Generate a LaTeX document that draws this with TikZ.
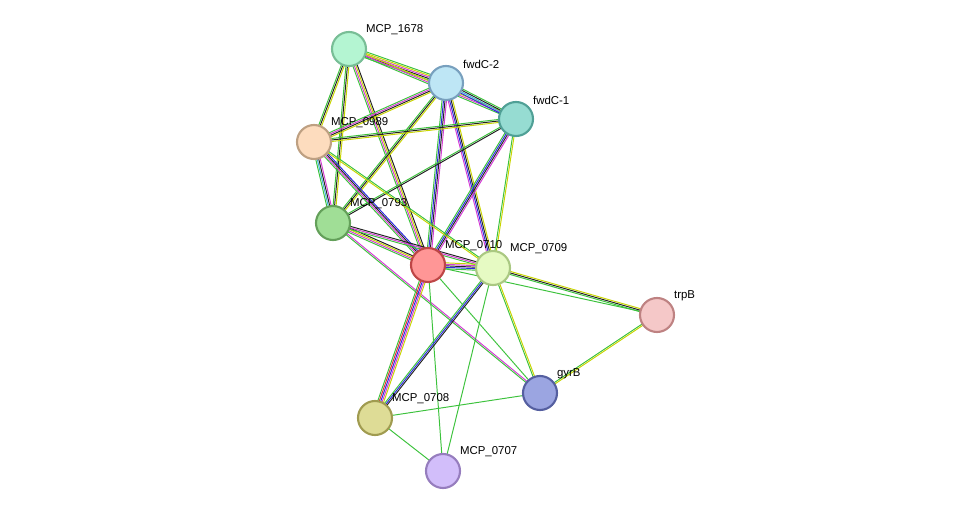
\documentclass[tikz,border=0pt]{standalone}
\usepackage{fontspec}
\setmainfont{Liberation Sans}
\usetikzlibrary{calc}
\definecolor{eg}{HTML}{3CC23C}
\definecolor{ey}{HTML}{C8D400}
\definecolor{ek}{HTML}{222222}
\definecolor{eb}{HTML}{2B2BE0}
\definecolor{em}{HTML}{D43CD4}
\definecolor{ec}{HTML}{3CB4D4}
\definecolor{er}{HTML}{E03030}
\tikzset{
    edge/.style={line width=0.55pt},
    prot/.style={circle, minimum size=0.68cm, inner sep=0pt, line width=1.2pt},
    lbl/.style={font=\fontsize{6.5}{8}\selectfont, inner sep=1pt}
}
% #1,#2 ends, #3 number of lines, #4 colours
\newcommand\lnk[4]{
    \foreach \c [count=\i] in {#4} {
        \pgfmathsetmacro\o{(\i-(#3+1)/2)*0.85}
        \draw[\c, edge] ($(#1)!\o pt!90:(#2)$) -- ($(#2)!\o pt!-90:(#1)$);
    }
}
\begin{document}
\begin{tikzpicture}[x=0.02cm, y=-0.02cm]
    \useasboundingbox (0,0) rectangle (975,517);
    \coordinate (a1678) at (349,49);
    \coordinate (afc2) at (446,83);
    \coordinate (afc1) at (516,119);
    \coordinate (a0989) at (314,142);
    \coordinate (a0793) at (333,223);
    \coordinate (a0710) at (428,265);
    \coordinate (a0709) at (493,268);
    \coordinate (atrp) at (657,315);
    \coordinate (agyr) at (540,393);
    \coordinate (a0708) at (375,418);
    \coordinate (a0707) at (443,471);
    % edges
    \lnk{a1678}{afc2}{5}{eg,ek,em,ey,eg}
    \lnk{a1678}{afc1}{3}{eg,em,ey}
    \lnk{a1678}{a0989}{3}{eg,ek,ey}
    \lnk{a1678}{a0793}{3}{eg,ek,ey}
    \lnk{a1678}{a0710}{4}{eg,em,ey,ek}
    \lnk{afc2}{afc1}{4}{eb,ec,ek,eg}
    \lnk{afc2}{a0989}{4}{eg,em,ek,ey}
    \lnk{afc2}{a0793}{3}{eg,ek,ey}
    \lnk{afc2}{a0710}{4}{eg,eb,ek,em}
    \lnk{afc2}{a0709}{4}{em,eb,ek,ey}
    \lnk{afc1}{a0989}{3}{eg,ek,ey}
    \lnk{afc1}{a0793}{2}{eg,ek}
    \lnk{afc1}{a0710}{4}{eg,eb,ek,em}
    \lnk{afc1}{a0709}{2}{eg,ey}
    \lnk{a0989}{a0793}{4}{eg,ec,ek,em}
    \lnk{a0989}{a0710}{4}{eg,em,ek,eb}
    \lnk{a0989}{a0709}{2}{ey,eg}
    \lnk{a0793}{a0710}{4}{eg,em,ey,ek}
    \lnk{a0793}{a0709}{3}{eg,em,ek}
    \lnk{a0793}{agyr}{2}{eg,em}
    \lnk{a0710}{a0709}{5}{eg,eb,ek,em,ey}
    \lnk{a0710}{a0708}{5}{eg,er,eb,em,ey}
    \lnk{a0710}{agyr}{1}{eg}
    \lnk{a0710}{a0707}{1}{eg}
    \lnk{a0710}{atrp}{1}{eg}
    \lnk{a0709}{a0708}{3}{eg,eb,ek}
    \lnk{a0709}{atrp}{3}{eg,ek,ey}
    \lnk{a0709}{agyr}{2}{eg,ey}
    \lnk{a0709}{a0707}{1}{eg}
    \lnk{atrp}{agyr}{2}{eg,ey}
    \lnk{a0708}{agyr}{1}{eg}
    \lnk{a0708}{a0707}{1}{eg}
    % proteins
    \node[prot, fill={rgb,255:red,180;green,245;blue,210}, draw={rgb,255:red,120;green,190;blue,150}] (n1678) at (a1678) {};
    \node[prot, fill={rgb,255:red,190;green,230;blue,245}, draw={rgb,255:red,120;green,160;blue,190}] (nfc2) at (afc2) {};
    \node[prot, fill={rgb,255:red,150;green,220;blue,210}, draw={rgb,255:red,80;green,160;blue,150}] (nfc1) at (afc1) {};
    \node[prot, fill={rgb,255:red,253;green,220;blue,190}, draw={rgb,255:red,190;green,160;blue,130}] (n0989) at (a0989) {};
    \node[prot, fill={rgb,255:red,160;green,222;blue,150}, draw={rgb,255:red,100;green,160;blue,90}] (n0793) at (a0793) {};
    \node[prot, fill={rgb,255:red,255;green,150;blue,150}, draw={rgb,255:red,190;green,70;blue,70}] (n0710) at (a0710) {};
    \node[prot, fill={rgb,255:red,230;green,250;blue,195}, draw={rgb,255:red,170;green,200;blue,130}] (n0709) at (a0709) {};
    \node[prot, fill={rgb,255:red,245;green,200;blue,200}, draw={rgb,255:red,190;green,130;blue,130}] (ntrp) at (atrp) {};
    \node[prot, fill={rgb,255:red,155;green,165;blue,225}, draw={rgb,255:red,85;green,95;blue,160}] (ngyr) at (agyr) {};
    \node[prot, fill={rgb,255:red,222;green,220;blue,150}, draw={rgb,255:red,160;green,155;blue,80}] (n0708) at (a0708) {};
    \node[prot, fill={rgb,255:red,210;green,190;blue,250}, draw={rgb,255:red,150;green,125;blue,190}] (n0707) at (a0707) {};
    % labels
    \node[lbl, anchor=south west] (l1678) at ($(n1678)+(15,-12)$) {MCP\_1678};
    \node[lbl, anchor=south west] (lfc2) at ($(nfc2)+(15,-12)$) {fwdC-2};
    \node[lbl, anchor=south west] (lfc1) at ($(nfc1)+(15,-12)$) {fwdC-1};
    \node[lbl, anchor=south west] (l0989) at ($(n0989)+(15,-12)$) {MCP\_0989};
    \node[lbl, anchor=south west] (l0793) at ($(n0793)+(15,-12)$) {MCP\_0793};
    \node[lbl, anchor=south west] (l0710) at ($(n0710)+(15,-12)$) {MCP\_0710};
    \node[lbl, anchor=south west] (l0709) at ($(n0709)+(15,-12)$) {MCP\_0709};
    \node[lbl, anchor=south west] (ltrp) at ($(ntrp)+(15,-12)$) {trpB};
    \node[lbl, anchor=south west] (lgyr) at ($(ngyr)+(15,-12)$) {gyrB};
    \node[lbl, anchor=south west] (l0708) at ($(n0708)+(15,-12)$) {MCP\_0708};
    \node[lbl, anchor=south west] (l0707) at ($(n0707)+(15,-12)$) {MCP\_0707};
\end{tikzpicture}
\end{document}
